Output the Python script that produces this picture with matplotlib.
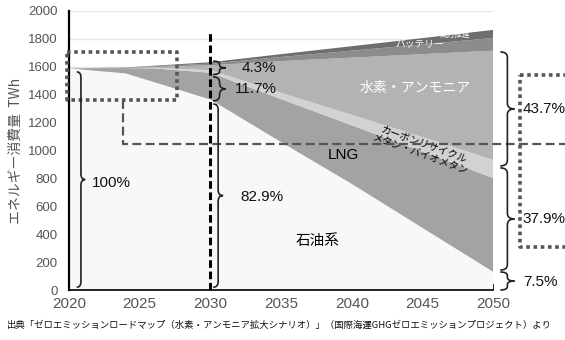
import matplotlib
matplotlib.use("Agg")
import matplotlib.pyplot as plt
from matplotlib.path import Path
from matplotlib.patches import PathPatch

plt.rcParams['font.family'] = ['Noto Sans CJK JP', 'DejaVu Sans']

# energy use by fuel, TWh
years = [2020, 2024, 2026, 2030, 2035, 2040, 2045, 2050]
oil = [1588, 1552, 1490, 1365, 1060, 760, 445, 130]
lng = [0, 38, 98, 192, 308, 420, 546, 673]
carbon_recycle = [0, 0, 5, 18, 45, 75, 105, 129]
hydrogen = [0, 0, 5, 35, 227, 410, 594, 783]
battery = [0, 2, 5, 12, 30, 50, 70, 91]
wind = [0, 2, 4, 10, 20, 32, 45, 58]

series = [oil, lng, carbon_recycle, hydrogen, battery, wind]
colors = ['#f8f8f8', '#a3a3a3', '#d2d2d2', '#b3b3b3', '#8c8c8c', '#6e6e6e']

NUM_FONT = 'Liberation Sans'
GRAY = '#555555'


def brace(ax, x, y0, y1, w, r=40, lw=1.2):
    # vertical curly brace with its tip pointing right
    ym = (y0 + y1) / 2
    r = min(r, abs(y1 - y0) / 4)
    xm = x + w / 2
    verts = [(x, y1), (xm, y1), (xm, y1 - r), (xm, ym + r),
             (xm, ym), (x + w, ym), (xm, ym), (xm, ym - r),
             (xm, y0 + r), (xm, y0), (x, y0)]
    codes = [Path.MOVETO, Path.CURVE3, Path.CURVE3, Path.LINETO,
             Path.CURVE3, Path.CURVE3, Path.CURVE3, Path.CURVE3,
             Path.LINETO, Path.CURVE3, Path.CURVE3]
    patch = PathPatch(Path(verts, codes), fill=False, lw=lw,
                      color='#222222', clip_on=False, zorder=7)
    ax.add_patch(patch)


def main():
    fig = plt.figure(figsize=(5.65, 3.4), dpi=100)
    ax = fig.add_axes([0.122, 0.147, 0.751, 0.821])

    ax.stackplot(years, *series, colors=colors, linewidth=0)

    ax.set_xlim(2020, 2050)
    ax.set_ylim(0, 2000)
    ax.set_xticks(range(2020, 2051, 5))
    ax.set_yticks(range(0, 2001, 200))
    ax.grid(axis='y', color='#e6e6e6', lw=1)
    ax.set_axisbelow(True)
    for s in ['top', 'right']:
        ax.spines[s].set_visible(False)
    ax.spines['left'].set_linewidth(1.6)
    ax.spines['bottom'].set_linewidth(1.2)
    ax.tick_params(axis='x', direction='in', length=4, width=1.2, pad=5,
                   labelsize=11, labelcolor=GRAY)
    ax.tick_params(axis='y', length=0, pad=8, labelsize=9.5, labelcolor=GRAY)
    for lab in ax.get_xticklabels() + ax.get_yticklabels():
        lab.set_fontfamily(NUM_FONT)
    ax.set_ylabel('エネルギー消費量  TWh', fontsize=10, color=GRAY, labelpad=4)

    # band labels
    ax.text(2047.3, 1830, '風力推進', fontsize=5.5, color='white', ha='center', va='center')
    ax.text(2044.8, 1758, 'バッテリー', fontsize=7, color='white', ha='center', va='center')
    ax.text(2044.5, 1450, '水素・アンモニア', fontsize=10, color='white', ha='center', va='center')
    ax.text(2045.0, 1010, 'カーボンリサイクル\nメタン・バイオメタン', fontsize=7.3,
            ha='center', va='center', rotation=-20, linespacing=0.95)
    ax.text(2039.4, 968, 'LNG', fontsize=11, ha='center', va='center', family=NUM_FONT)
    ax.text(2037.6, 350, '石油系', fontsize=10.5, ha='center', va='center')

    # 2030 marker line
    ax.plot([2030, 2030], [0, 1850], color='black', ls=(0, (2.5, 1.2)), lw=2.2,
            clip_on=False, zorder=5)

    # dotted boxes and dashed connector
    box_kw = dict(color=GRAY, ls=(0, (1, 1)), lw=2.6, clip_on=False, zorder=6)
    ax.plot([2019.86, 2027.65, 2027.65, 2019.86, 2019.86],
            [1706, 1706, 1362, 1362, 1706], **box_kw)
    ax.plot([2051.9, 2056, 2056, 2051.9, 2051.9],
            [1541, 1541, 308, 308, 1541], **box_kw)
    ax.plot([2023.8, 2023.8, 2056], [1362, 1047, 1047], color=GRAY,
            ls=(0, (4, 2)), lw=1.6, clip_on=False, zorder=6)

    # braces and shares
    pct_kw = dict(fontsize=11, family=NUM_FONT, va='center', ha='left',
                  color='#111111', clip_on=False, zorder=8)
    brace(ax, 2020.55, 20, 1563, 0.6)
    ax.text(2021.6, 767, '100%', **pct_kw)
    brace(ax, 2030.2, 1545, 1640, 0.9, r=18)
    ax.text(2032.2, 1592, '4.3%', **pct_kw)
    brace(ax, 2030.2, 1355, 1527, 0.9)
    ax.text(2031.7, 1441, '11.7%', **pct_kw)
    brace(ax, 2030.2, 20, 1333, 0.7)
    ax.text(2032.1, 667, '82.9%', **pct_kw)
    brace(ax, 2050.5, 889, 1706, 1.0)
    ax.text(2052.1, 1297, '43.7%', **pct_kw)
    brace(ax, 2050.5, 143, 875, 1.0)
    ax.text(2052.1, 509, '37.9%', **pct_kw)
    brace(ax, 2050.5, 0, 129, 1.0, r=25)
    ax.text(2052.1, 55, '7.5%', **pct_kw)

    fig.text(0.012, 0.042,
             '出典「ゼロエミッションロードマップ（水素・アンモニア拡大シナリオ）」'
             '（国際海運GHGゼロエミッションプロジェクト）より',
             fontsize=6.75, color='#111111', va='center', ha='left')

    fig.savefig('out.png', dpi=100)


if __name__ == '__main__':
    main()
